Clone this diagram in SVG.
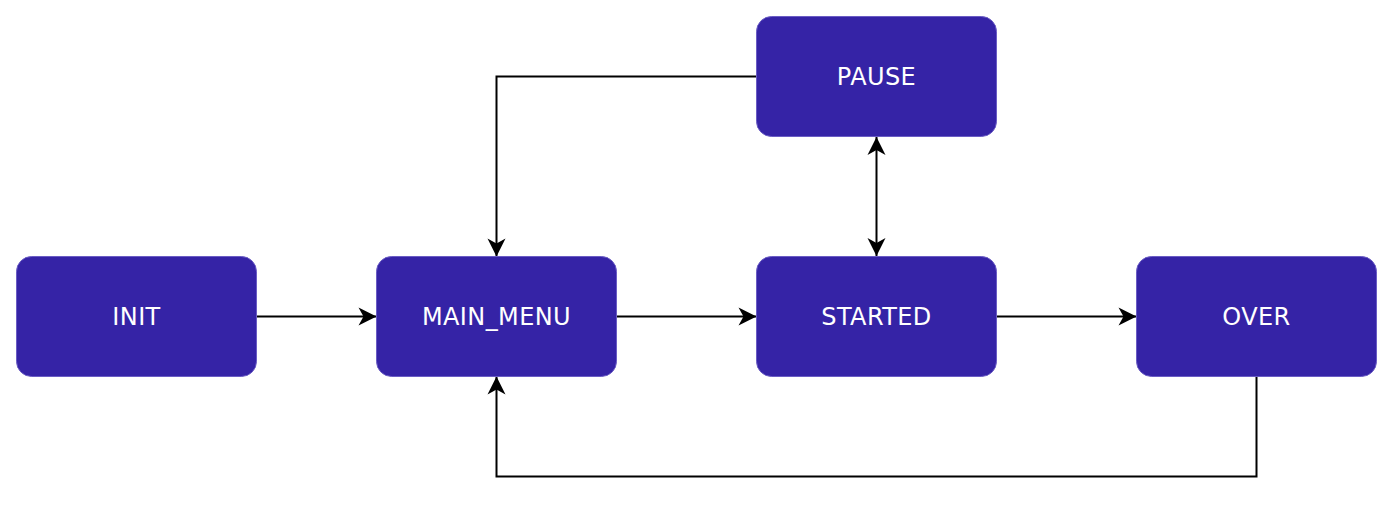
<svg xmlns="http://www.w3.org/2000/svg" width="1394" height="510" viewBox="0 0 1394 510">
<style>
.node rect{fill:#3523A6;stroke:#6a5cc4;stroke-width:1}
.node text{fill:#ffffff;font-family:"DejaVu Sans",Verdana,sans-serif;font-size:24px;letter-spacing:0.4px;text-anchor:middle}
.edge{fill:none;stroke:#000;stroke-width:2}
</style>
<defs>
<marker id="arr" markerUnits="userSpaceOnUse" viewBox="-19 -10 20 20" refX="0" refY="0" markerWidth="20" markerHeight="20" orient="auto-start-reverse">
<path d="M0,0 L-18,-9 L-13,0 L-18,9 Z" fill="#000"/>
</marker>
</defs>
<rect width="1394" height="510" fill="#fff"/>
<g id="connectors">
<path class="edge" d="M256.5,316.5 H376.5" marker-end="url(#arr)"/>
<path class="edge" d="M616.5,316.5 H756.5" marker-end="url(#arr)"/>
<path class="edge" d="M996.5,316.5 H1136.5" marker-end="url(#arr)"/>
<path class="edge" d="M876.5,137 V256" marker-start="url(#arr)" marker-end="url(#arr)"/>
<path class="edge" d="M756.5,76.5 H496.5 V256.5" marker-end="url(#arr)"/>
<path class="edge" d="M1256.5,376.5 V476.5 H496.5 V376.5" marker-end="url(#arr)"/>
</g>
<g id="INIT" class="node"><rect x="16.5" y="256.5" width="240" height="120" rx="15"/><text x="136.5" y="325">INIT</text></g>
<g id="MAIN_MENU" class="node"><rect x="376.5" y="256.5" width="240" height="120" rx="15"/><text x="496.5" y="325">MAIN_MENU</text></g>
<g id="STARTED" class="node"><rect x="756.5" y="256.5" width="240" height="120" rx="15"/><text x="876.5" y="325">STARTED</text></g>
<g id="OVER" class="node"><rect x="1136.5" y="256.5" width="240" height="120" rx="15"/><text x="1256.5" y="325">OVER</text></g>
<g id="PAUSE" class="node"><rect x="756.5" y="16.5" width="240" height="120" rx="15"/><text x="876.5" y="85">PAUSE</text></g>
</svg>
